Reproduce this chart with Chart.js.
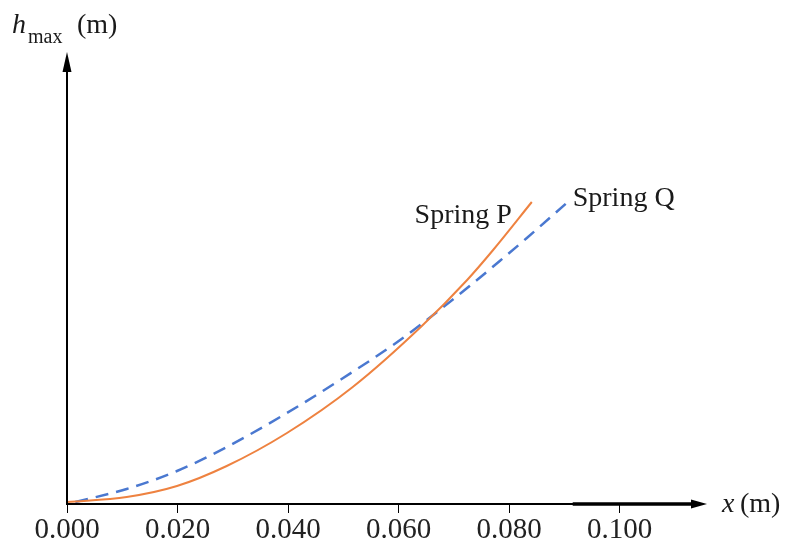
<!DOCTYPE html>
<html>
<head>
<meta charset="utf-8">
<script src="https://cdn.jsdelivr.net/npm/chart.js@4.4.1/dist/chart.umd.min.js"></script>
<style>
  html, body { margin: 0; padding: 0; background: #fff; }
</style>
</head>
<body>
<canvas id="myChart" width="791" height="546"></canvas>
<script>
// spring P (solid orange)
var xP = [0.000, 0.0108, 0.0199, 0.0289, 0.0398, 0.0517, 0.0642, 0.0724, 0.0771, 0.0841];
var hP = [0.002, 0.007, 0.018, 0.038, 0.071, 0.117, 0.178, 0.224, 0.254, 0.302];

// spring Q (dashed blue)
var xQ = [0.0015, 0.0108, 0.0199, 0.0289, 0.0398, 0.0494, 0.0590, 0.0644, 0.0724, 0.0783, 0.0832, 0.0906];
var hQ = [0.002, 0.015, 0.033, 0.057, 0.091, 0.124, 0.159, 0.181, 0.216, 0.243, 0.266, 0.302];

var xTicks = [0.000, 0.020, 0.040, 0.060, 0.080, 0.100];
var seriesNames = ['Spring P', 'Spring Q'];

var SERIF = '"Liberation Serif", "DejaVu Serif", serif';

function toPoints(xs, ys) {
  var pts = [];
  for (var i = 0; i < xs.length; i++) {
    pts.push({ x: xs[i], y: ys[i] });
  }
  return pts;
}

// axes with arrow heads, axis titles and curve labels
var decorations = {
  id: 'decorations',
  afterDraw: function (chart) {
    var ctx = chart.ctx;
    var a = chart.chartArea;
    var xs = chart.scales.x;
    var ys = chart.scales.y;
    ctx.save();
    ctx.strokeStyle = '#000';
    ctx.fillStyle = '#000';

    // y axis
    ctx.lineWidth = 2;
    ctx.beginPath();
    ctx.moveTo(a.left, a.bottom + 1);
    ctx.lineTo(a.left, a.top + 16);
    ctx.stroke();
    ctx.beginPath();
    ctx.moveTo(a.left, a.top);
    ctx.lineTo(a.left - 4.5, a.top + 20);
    ctx.lineTo(a.left + 4.5, a.top + 20);
    ctx.closePath();
    ctx.fill();

    // x axis
    ctx.beginPath();
    ctx.moveTo(a.left - 1, a.bottom);
    ctx.lineTo(a.right - 14, a.bottom);
    ctx.stroke();
    ctx.lineWidth = 3.5;
    ctx.beginPath();
    ctx.moveTo(xs.getPixelForValue(0.0915), a.bottom);
    ctx.lineTo(a.right - 14, a.bottom);
    ctx.stroke();
    ctx.beginPath();
    ctx.moveTo(a.right, a.bottom);
    ctx.lineTo(a.right - 16, a.bottom - 4.5);
    ctx.lineTo(a.right - 16, a.bottom + 4.5);
    ctx.closePath();
    ctx.fill();

    // axis titles
    ctx.fillStyle = '#1a1a1a';
    ctx.textBaseline = 'alphabetic';
    ctx.textAlign = 'left';
    ctx.font = 'italic 28px ' + SERIF;
    ctx.fillText('h', 12, 33);
    ctx.font = '20px ' + SERIF;
    ctx.fillText('max', 28, 43);
    ctx.font = '28px ' + SERIF;
    ctx.fillText('(m)', 77, 33);

    ctx.font = 'italic 28px ' + SERIF;
    ctx.fillText('x', 722, 512);
    ctx.font = '28px ' + SERIF;
    ctx.fillText('(m)', 740, 512);

    // curve labels next to the line ends
    var pEndX = xs.getPixelForValue(xP[xP.length - 1]);
    var pEndY = ys.getPixelForValue(hP[hP.length - 1]);
    var qEndX = xs.getPixelForValue(xQ[xQ.length - 1]);
    var qEndY = ys.getPixelForValue(hQ[hQ.length - 1]);
    ctx.textAlign = 'right';
    ctx.fillText(seriesNames[0], pEndX - 20, pEndY + 21);
    ctx.textAlign = 'left';
    ctx.fillText(seriesNames[1], qEndX + 5, qEndY + 4);
    ctx.restore();
  }
};

var ctx = document.getElementById('myChart').getContext('2d');
var myChart = new Chart(ctx, {
  type: 'line',
  data: {
    datasets: [
      {
        label: seriesNames[0],
        data: toPoints(xP, hP),
        borderColor: '#EE8240',
        borderWidth: 2,
        pointRadius: 0,
        cubicInterpolationMode: 'monotone',
        fill: false
      },
      {
        label: seriesNames[1],
        data: toPoints(xQ, hQ),
        borderColor: '#4A78D0',
        borderWidth: 2.5,
        borderDash: [13, 8],
        pointRadius: 0,
        cubicInterpolationMode: 'monotone',
        fill: false
      }
    ]
  },
  options: {
    responsive: false,
    animation: false,
    layout: { padding: { left: 67, right: 84, top: 52, bottom: 0 } },
    plugins: {
      legend: { display: false },
      tooltip: { enabled: false }
    },
    scales: {
      x: {
        type: 'linear',
        min: 0,
        max: 0.1158,
        afterFit: function (s) { s.height = 42; },
        afterBuildTicks: function (s) {
          s.ticks = xTicks.map(function (v) { return { value: v }; });
        },
        border: { display: false },
        grid: {
          drawOnChartArea: false,
          drawTicks: true,
          tickLength: 9,
          color: '#000',
          lineWidth: 1
        },
        ticks: {
          padding: 0,
          color: '#222',
          maxRotation: 0,
          font: { family: SERIF, size: 29 },
          callback: function (v) { return Number(v).toFixed(3); }
        }
      },
      y: {
        type: 'linear',
        display: false,
        min: 0,
        max: 0.452
      }
    }
  },
  plugins: [decorations]
});
</script>
</body>
</html>
